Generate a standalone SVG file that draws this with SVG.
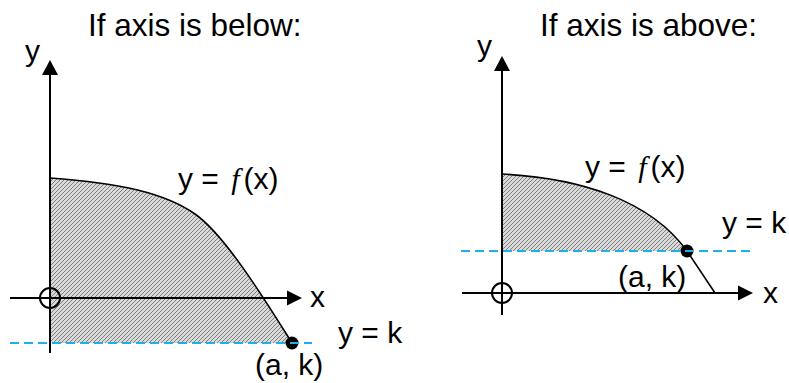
<svg xmlns="http://www.w3.org/2000/svg" width="789" height="383" viewBox="0 0 789 383">
  <defs>
    <pattern id="hatch" patternUnits="userSpaceOnUse" width="4" height="4">
      <rect width="4" height="4" fill="#d9d9d9"/>
      <path d="M-1,1 L1,-1 M0,4 L4,0 M3,5 L5,3" stroke="#7f7f7f" stroke-width="1"/>
    </pattern>
  </defs>
  <style>
    .axis { stroke: #000; stroke-width: 2; fill: none; }
    .curve { stroke: #000; stroke-width: 1.6; fill: none; }
    .area { fill: url(#hatch); stroke: none; }
    .dash { stroke: #1ab2e8; stroke-width: 2; stroke-dasharray: 9 5; fill: none; }
    .origin { stroke: #000; stroke-width: 2; fill: none; }
    .dot { fill: #000; }
    .arrow { fill: #000; }
    text { font-family: "Liberation Sans", Arial, sans-serif; fill: #000; }
    .title { font-size: 31.5px; }
    .lbl { font-size: 30px; }
    .fi { font-family: "Liberation Serif", serif; font-style: italic; }
  </style>

  <g id="left-panel">
    <text class="title" x="88" y="36">If axis is below:</text>
    <g id="left-area">
      <path class="area" d="M50,178 C120,183 165,193 195,214 C225,235 265,300 292,343 L50,343 Z"/>
      <path class="curve" d="M50,178 C120,183 165,193 195,214 C225,235 265,300 292,343"/>
    </g>
    <g id="left-axes">
      <line class="axis" x1="50" y1="74" x2="50" y2="353"/>
      <polygon class="arrow" points="50,60 42,75 58,75"/>
      <line class="axis" x1="10" y1="298" x2="288" y2="298"/>
      <polygon class="arrow" points="302,298 287,290.5 287,305.5"/>
      <circle class="origin" cx="50" cy="298" r="10"/>
      <text class="lbl" x="25" y="61">y</text>
      <text class="lbl" x="310" y="307">x</text>
    </g>
    <g id="left-line-k">
      <circle class="dot" cx="292" cy="343" r="6.5"/>
      <line class="dash" x1="10" y1="343" x2="312" y2="343"/>
      <text class="lbl" x="338" y="343">y = k</text>
      <text class="lbl" x="255" y="375">(a, k)</text>
    </g>
    <text class="lbl" x="178" y="189">y = <tspan class="fi" dx="4">f</tspan><tspan dx="4">(x)</tspan></text>
  </g>

  <g id="right-panel">
    <text class="title" x="540" y="36">If axis is above:</text>
    <g id="right-area">
      <path class="area" d="M502,174 C580,178 650,200 687,251 L502,251 Z"/>
      <path class="curve" d="M502,174 C580,178 650,200 687,251 L715,293"/>
    </g>
    <g id="right-axes">
      <line class="axis" x1="502" y1="70" x2="502" y2="315"/>
      <polygon class="arrow" points="502,56 494,71 510,71"/>
      <line class="axis" x1="462" y1="293" x2="739" y2="293"/>
      <polygon class="arrow" points="753,293 738,285.5 738,300.5"/>
      <circle class="origin" cx="502" cy="293" r="10"/>
      <text class="lbl" x="477" y="56">y</text>
      <text class="lbl" x="763" y="303">x</text>
    </g>
    <g id="right-line-k">
      <circle class="dot" cx="687" cy="251" r="6.5"/>
      <line class="dash" x1="461" y1="251" x2="750" y2="251"/>
      <text class="lbl" x="722" y="233">y = k</text>
      <text class="lbl" x="618" y="287">(a, k)</text>
    </g>
    <text class="lbl" x="585" y="177">y = <tspan class="fi" dx="4">f</tspan><tspan dx="4">(x)</tspan></text>
  </g>
</svg>
